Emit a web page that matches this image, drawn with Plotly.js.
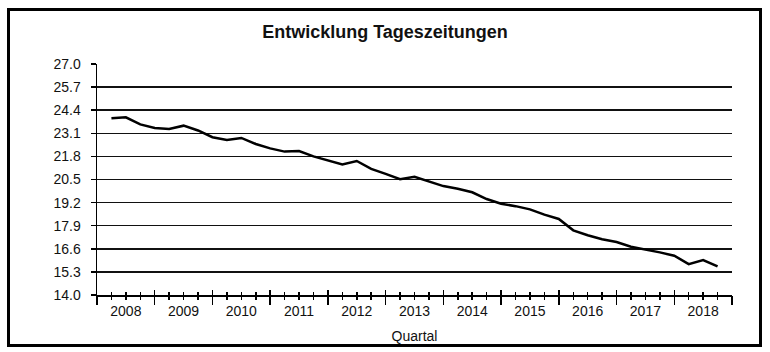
<!DOCTYPE html>
<html>
<head>
<meta charset="utf-8">
<script src="https://cdn.plot.ly/plotly-3.0.1.min.js"></script>
<style>
  html, body { margin: 0; padding: 0; background: #fff; }
  #chart { width: 770px; height: 352px; }
</style>
</head>
<body>
<div id="chart"></div>
<script>
// ---- data ----
const chartTitle = "Entwicklung Tageszeitungen";
const xAxisTitle = "Quartal";
const years = ["2008","2009","2010","2011","2012","2013","2014","2015","2016","2017","2018"];
const quartersPerYear = 4;
// quarterly values
const values = [
  23.94, 24.00, 23.60, 23.40, 23.34, 23.53, 23.26, 22.88, 22.72, 22.84,
  22.50, 22.25, 22.07, 22.10, 21.80, 21.58, 21.34, 21.54, 21.10, 20.82,
  20.52, 20.65, 20.40, 20.13, 19.98, 19.78, 19.40, 19.14, 19.00, 18.82,
  18.52, 18.28, 17.64, 17.36, 17.14, 16.98, 16.72, 16.58, 16.40, 16.21,
  15.74, 15.97, 15.61
];
const yTickVals = [14.0, 15.3, 16.6, 17.9, 19.2, 20.5, 21.8, 23.1, 24.4, 25.7, 27.0];

// ---- derived ----
const nQ = years.length * quartersPerYear;
const xPos = values.map((v, i) => i + 1);
const yearCenters = years.map((y, i) => i * quartersPerYear + quartersPerYear / 2);
const yearBounds = [];
for (let i = 0; i <= years.length; i++) yearBounds.push(i * quartersPerYear);
const quarterTicks = [];
for (let i = 0; i <= nQ; i++) if (i % quartersPerYear !== 0) quarterTicks.push(i);

const FONT = "Liberation Sans, Arial, sans-serif";
const INK = "#111";

const trace = {
  type: "scatter",
  mode: "lines",
  x: xPos,
  y: values,
  line: { color: "#000", width: 2.5 },
  hoverinfo: "y",
  showlegend: false
};

const baseX = {
  range: [0, nQ],
  showgrid: false,
  zeroline: false,
  fixedrange: true
};

const layout = {
  width: 770,
  height: 352,
  margin: { l: 97, r: 38, t: 64, b: 57 },
  paper_bgcolor: "#fff",
  plot_bgcolor: "#fff",
  font: { family: FONT, color: INK, size: 14 },
  title: {
    text: chartTitle,
    font: { family: FONT, size: 18, color: INK, weight: "bold" },
    xref: "container", x: 0.5, xanchor: "center",
    yref: "container", y: 1 - 31.5 / 352, yanchor: "middle"
  },
  xaxis: Object.assign({}, baseX, {
    tickmode: "array",
    tickvals: yearCenters,
    ticktext: years,
    ticks: "",
    ticklabelstandoff: 3,
    showline: true,
    linecolor: "#000",
    linewidth: 1.5,
    tickfont: { family: FONT, size: 14, color: INK },
    title: { text: xAxisTitle, font: { family: FONT, size: 14, color: INK }, standoff: 13 }
  }),
  xaxis2: Object.assign({}, baseX, {
    overlaying: "x",
    anchor: "y",
    side: "bottom",
    tickmode: "array",
    tickvals: yearBounds,
    ticks: "outside",
    ticklen: 9,
    tickwidth: 1.5,
    tickcolor: "#000",
    showticklabels: false,
    showline: false,
    minor: { tickmode: "array", tickvals: quarterTicks, ticks: "outside", ticklen: 4, tickwidth: 1.5, tickcolor: "#000", showgrid: false }
  }),
  xaxis3: Object.assign({}, baseX, {
    overlaying: "x",
    anchor: "y",
    side: "bottom",
    tickmode: "array",
    tickvals: yearBounds,
    ticks: "inside",
    ticklen: 5,
    tickwidth: 1.5,
    tickcolor: "#000",
    showticklabels: false,
    showline: false,
    minor: { tickmode: "array", tickvals: quarterTicks, ticks: "inside", ticklen: 3, tickwidth: 1.5, tickcolor: "#000", showgrid: false }
  }),
  yaxis: {
    range: [14, 27],
    tickmode: "array",
    tickvals: yTickVals,
    tickformat: ".1f",
    ticks: "outside",
    ticklen: 5,
    tickwidth: 1.5,
    tickcolor: "#000",
    ticklabelstandoff: 7,
    showline: true,
    linecolor: "#000",
    linewidth: 1.5,
    showgrid: true,
    gridcolor: "#111",
    gridwidth: 1.5,
    zeroline: false,
    fixedrange: true,
    tickfont: { family: FONT, size: 14, color: INK }
  },
  shapes: [{
    type: "rect",
    xref: "paper", yref: "paper",
    x0: (8.5 - 97) / 635, x1: (760.5 - 97) / 635,
    y0: (295 - 345.5) / 231, y1: (295 - 9.5) / 231,
    line: { color: "#000", width: 3 },
    fillcolor: "rgba(0,0,0,0)",
    layer: "above"
  }]
};

// invisible helper traces so the overlay axes are drawn
const helper2 = { type: "scatter", mode: "none", x: [0], y: [14], xaxis: "x2", yaxis: "y", hoverinfo: "skip", showlegend: false };
const helper3 = { type: "scatter", mode: "none", x: [0], y: [14], xaxis: "x3", yaxis: "y", hoverinfo: "skip", showlegend: false };

Plotly.newPlot("chart", [helper2, helper3, trace], layout, { displayModeBar: false, staticPlot: true });
</script>
</body>
</html>
